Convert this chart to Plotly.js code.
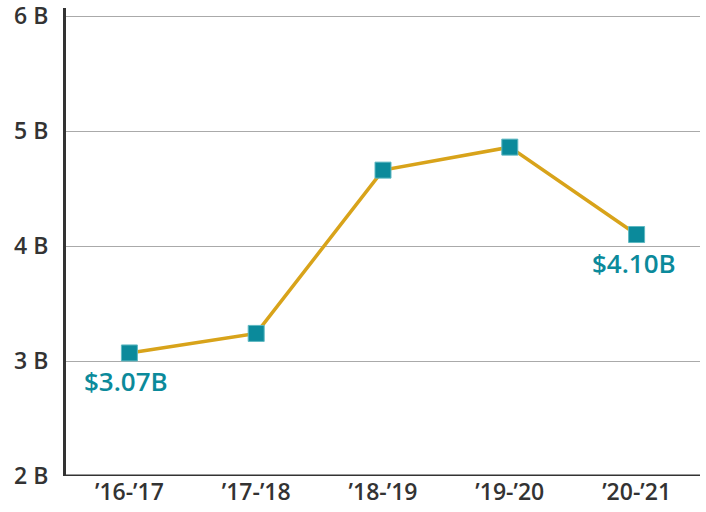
<!DOCTYPE html>
<html><head><meta charset="utf-8">
<script src="https://cdn.plot.ly/plotly-3.0.1.min.js"></script>
<style>html,body{margin:0;padding:0;background:#fff}#c{width:706px;height:512px}</style>
</head><body><div id="c"></div>
<script>
const categories = ["\u201916-\u201917", "\u201917-\u201918", "\u201918-\u201919", "\u201919-\u201920", "\u201920-\u201921"];
const values = [3.07, 3.24, 4.66, 4.86, 4.10];
const labelIdx = [0, 4];
const labelText = ["$3.07B", "$4.10B"];
const yTicks = [2, 3, 4, 5, 6];
const yTickText = ["2 B", "3 B", "4 B", "5 B", "6 B"];

const teal = "#0b8a9b";
const font = "Open Sans, Noto Sans, sans-serif";

Plotly.newPlot("c", [{
  x: categories, y: values, type: "scatter", mode: "lines+markers",
  line: {color: "#d8a31a", width: 3.5},
  marker: {symbol: "square", size: 16, color: teal, line: {color: "#5fb8c2", width: 1}},
  hoverinfo: "none"
}], {
  width: 706, height: 512,
  margin: {l: 66, r: 6, t: 8, b: 36},
  paper_bgcolor: "#fff", plot_bgcolor: "#fff",
  showlegend: false,
  xaxis: {
    type: "category", range: [-0.5, 4.5],
    showgrid: false, showline: false, zeroline: false, ticks: "",
    tickfont: {family: font, size: 23, color: "#333", weight: 600},
  },
  yaxis: {
    range: [2, 6.07], tickvals: yTicks, ticktext: yTickText,
    showgrid: true, gridcolor: "#aaaaaa", gridwidth: 1,
    showline: true, linecolor: "#333", linewidth: 3,
    zeroline: false, ticks: "", ticklabelstandoff: 10,
    ticklabeloverflow: "allow",
    tickfont: {family: font, size: 23, color: "#333", weight: 600}
  },
  shapes: [{type: "line", xref: "paper", yref: "y", x0: 0, x1: 1, y0: 2, y1: 2,
    line: {color: "#333", width: 3}}],
  annotations: labelIdx.map((i, k) => ({
    x: categories[i], y: values[i], text: labelText[k], showarrow: false,
    xanchor: "center", yanchor: "middle", yshift: -28, xshift: -3,
    font: {family: font, size: 26, color: teal, weight: 600}
  }))
}, {staticPlot: true});
</script></body></html>
